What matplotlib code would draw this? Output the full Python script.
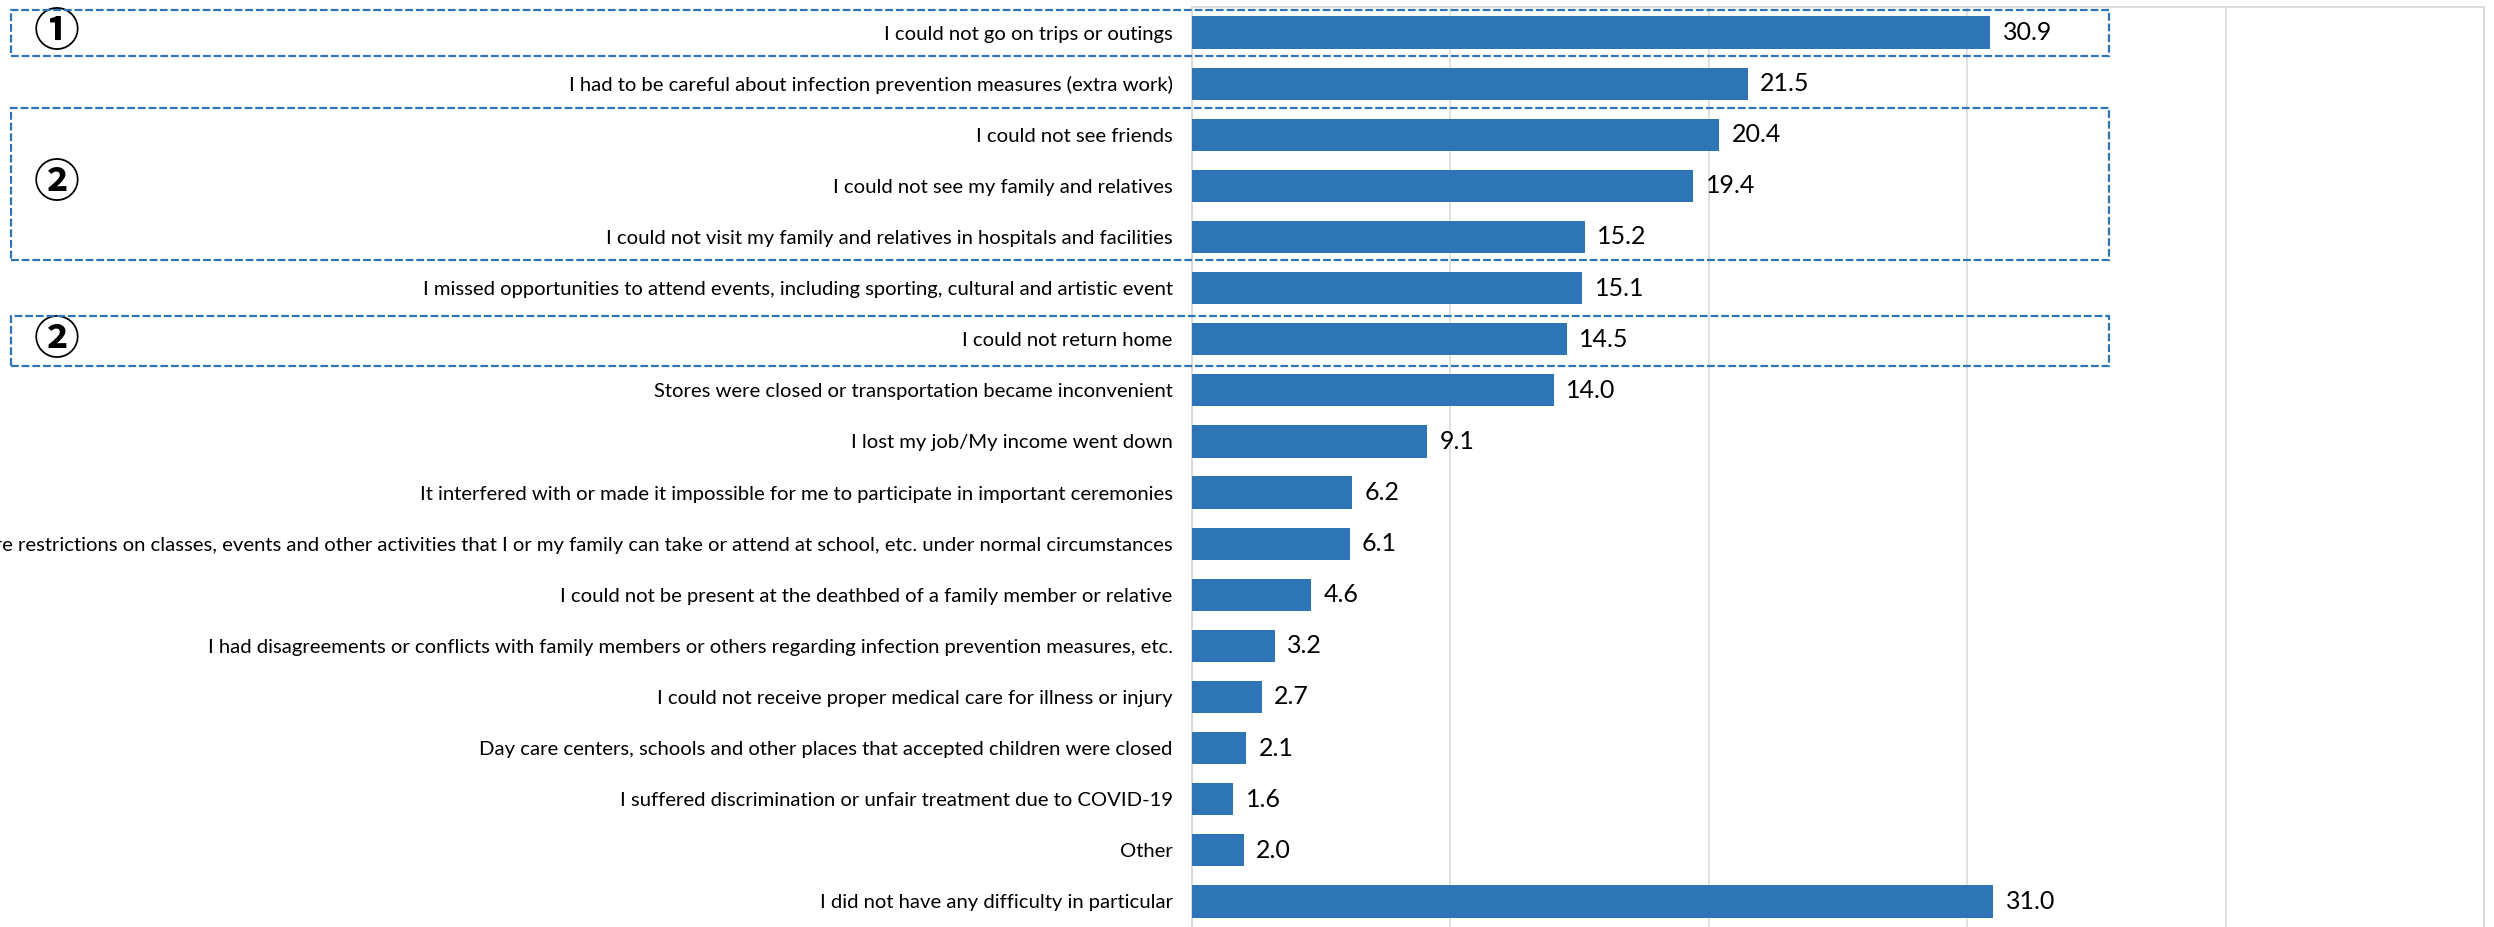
import matplotlib
matplotlib.use("Agg")
import matplotlib.pyplot as plt
import matplotlib.patches as patches

plt.rcParams['font.family'] = ['Lato', 'DejaVu Sans']

labels = [
    "I could not go on trips or outings",
    "I had to be careful about infection prevention measures (extra work)",
    "I could not see friends",
    "I could not see my family and relatives",
    "I could not visit my family and relatives in hospitals and facilities",
    "I missed opportunities to attend events, including sporting, cultural and artistic event",
    "I could not return home",
    "Stores were closed or transportation became inconvenient",
    "I lost my job/My income went down",
    "It interfered with or made it impossible for me to participate in important ceremonies",
    "There were restrictions on classes, events and other activities that I or my family can take or attend at school, etc. under normal circumstances",
    "I could not be present at the deathbed of a family member or relative",
    "I had disagreements or conflicts with family members or others regarding infection prevention measures, etc.",
    "I could not receive proper medical care for illness or injury",
    "Day care centers, schools and other places that accepted children were closed",
    "I suffered discrimination or unfair treatment due to COVID-19",
    "Other",
    "I did not have any difficulty in particular",
]
values = [30.9, 21.5, 20.4, 19.4, 15.2, 15.1, 14.5, 14.0, 9.1, 6.2,
          6.1, 4.6, 3.2, 2.7, 2.1, 1.6, 2.0, 31.0]

# highlighted groups: first row, last row, marker
groups = [(0, 0, "①"), (2, 4, "②"), (6, 6, "②")]

BLUE = "#2E75B6"
GRID = "#D9D9D9"

W, H = 2494, 927
fig = plt.figure(figsize=(W / 100, H / 100), dpi=100)
ax = fig.add_axes([1192 / W, 0, (2484 - 1192) / W, (H - 7) / H])

pos = list(range(len(labels)))
ax.barh(pos, values, height=0.63, color=BLUE, zorder=3)
for p, v in zip(pos, values):
    ax.annotate(f"{v:.1f}", (v, p), xytext=(9, 0), textcoords="offset points",
                ha="left", va="center", fontsize=18, color="black")

ax.set_xlim(0, 50)
ax.set_ylim(len(labels) - 0.5, -0.5)
ax.set_xticks([0, 10, 20, 30, 40, 50])
ax.set_xticklabels([])
ax.tick_params(axis="x", length=0)
ax.set_yticks(pos)
ax.set_yticklabels(labels, fontsize=14.6)
ax.tick_params(axis="y", length=0, pad=14)
ax.grid(axis="x", color=GRID, linewidth=1.1, zorder=0)
for side in ["left", "top", "right"]:
    ax.spines[side].set_color(GRID)
    ax.spines[side].set_linewidth(1.3)
ax.spines["bottom"].set_visible(False)

# dashed frames around highlighted rows, reaching from the page edge
inv = fig.transFigure.inverted()
x_right = 35.5
for first, last, mark in groups:
    top_pad = 0.45 if first != 2 else 0.53
    bot_pad = 0.45 if last != 6 else 0.52
    x1, y_top = ax.transData.transform((x_right, first - top_pad))
    _, y_bot = ax.transData.transform((x_right, last + bot_pad))
    fx0, fy0 = inv.transform((11, y_bot))
    fx1, fy1 = inv.transform((x1, y_top))
    fig.add_artist(patches.Rectangle((fx0, fy0), fx1 - fx0, fy1 - fy0,
                                     transform=fig.transFigure, fill=False,
                                     edgecolor=BLUE, linewidth=1.6,
                                     linestyle=(0, (3.5, 1.3)), zorder=5))
    fig.text(57 / W, (fy0 + fy1) / 2, mark, ha="center", va="center",
             fontsize=33, fontweight="bold",
             family=['Noto Sans CJK JP', 'DejaVu Sans'])

fig.savefig("out.png", dpi=100, facecolor="white")
